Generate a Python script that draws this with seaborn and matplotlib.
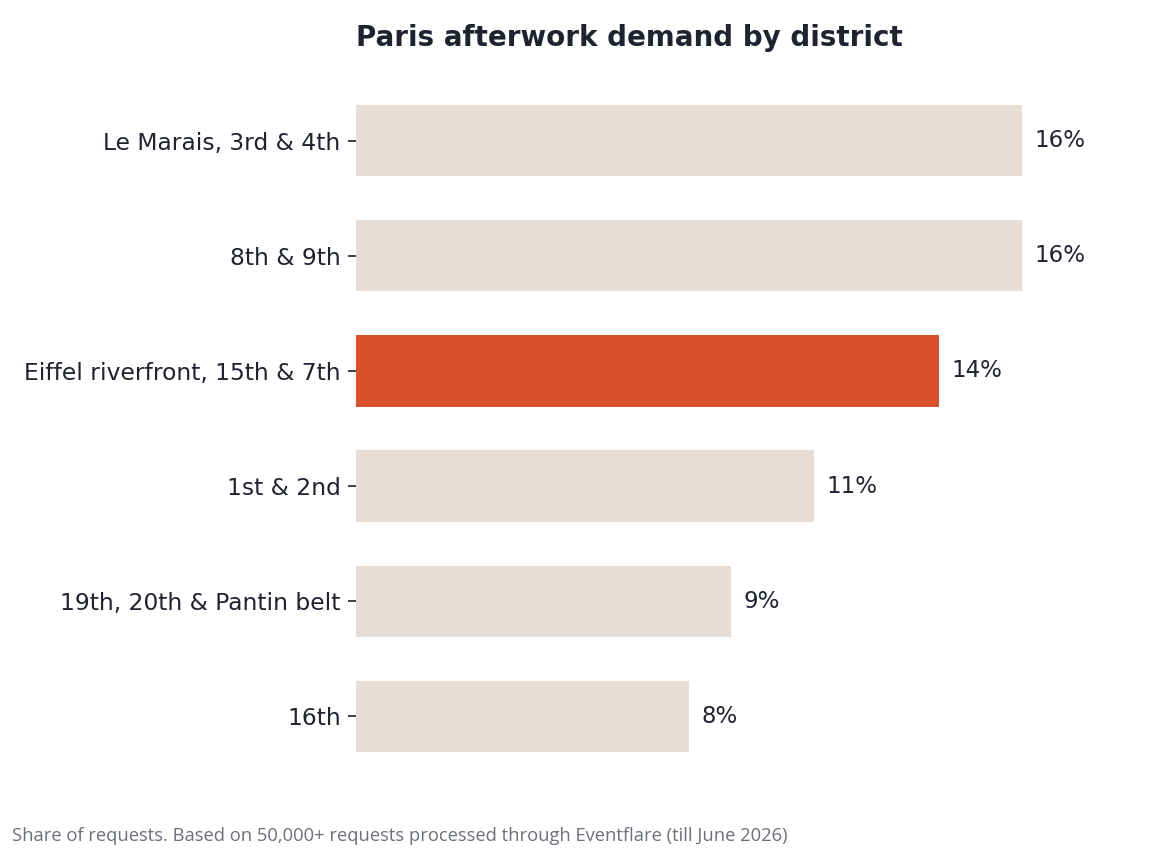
import matplotlib
matplotlib.use("Agg")
import matplotlib.pyplot as plt
import seaborn as sns
import pandas as pd

districts = ["Le Marais, 3rd & 4th", "8th & 9th", "Eiffel riverfront, 15th & 7th",
             "1st & 2nd", "19th, 20th & Pantin belt", "16th"]
shares = [16, 16, 14, 11, 9, 8]
highlight = "Eiffel riverfront, 15th & 7th"

BASE = "#E7DDD4"
ACCENT = "#D9512C"
TEXT = "#1F2330"

df = pd.DataFrame({"district": districts, "share": shares})
palette = {d: (ACCENT if d == highlight else BASE) for d in districts}

sns.set_theme(style="white")
fig = plt.figure(figsize=(11.52, 8.51), dpi=100)
top_px, bot_px = 71.4, 785.6
ax = fig.add_axes([356/1152, 1 - bot_px/851, (1130-356)/1152, (bot_px-top_px)/851])

sns.barplot(data=df, y="district", x="share", hue="district", palette=palette,
            order=districts, dodge=False, legend=False, width=0.62, saturation=1,
            linewidth=0, ax=ax)

ax.set_xlim(0, 16 * 774 / 666)
ax.set_ylim(5.6, -0.6)
for i, v in enumerate(shares):
    ax.text(v + 0.3, i, f"{v}%", va="center", ha="left", fontsize=16.5, color=TEXT)

ax.set_xlabel("")
ax.set_ylabel("")
ax.set_xticks([])
for s in ax.spines.values():
    s.set_visible(False)
ax.tick_params(axis="y", length=6, width=1.2, color=TEXT, labelsize=16.8, labelcolor=TEXT, pad=5, left=True)

fig.text(356/1152, 1 - 38/851, "Paris afterwork demand by district", fontsize=20, fontweight="bold",
         color=TEXT, ha="left", va="center")
fig.text(12/1152, 1 - 836/851,
         "Share of requests. Based on 50,000+ requests processed through Eventflare (till June 2026)",
         fontsize=13.2, color="#6B7079", ha="left", va="center", family=["Open Sans", "DejaVu Sans"])

fig.savefig("out.png", dpi=100)
